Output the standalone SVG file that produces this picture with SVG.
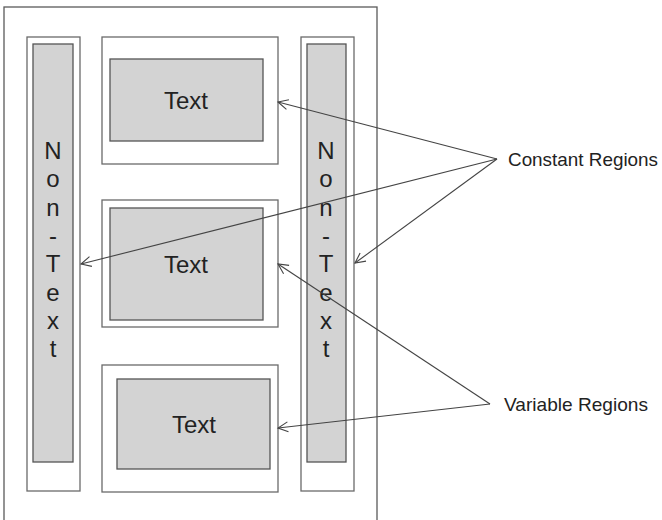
<svg xmlns="http://www.w3.org/2000/svg" width="662" height="520" viewBox="0 0 662 520">
<defs>
<style>
.frame{fill:#fff;stroke:#5a5a5a;stroke-width:1.3}
.cell{fill:#fff;stroke:#6a6a6a;stroke-width:1.3}
.gray{fill:#d3d3d3;stroke:#555;stroke-width:1.3}
.lbl{font-family:"Liberation Sans",Arial,sans-serif;font-size:24px;fill:#222;text-anchor:middle}
.cap{font-family:"Liberation Sans",Arial,sans-serif;font-size:18.5px;fill:#222}
.conn{stroke:#444;stroke-width:1.1;fill:none;marker-end:url(#arr)}
</style>
<marker id="arr" markerUnits="userSpaceOnUse" viewBox="-12 -7 14 14" refX="0" refY="0" markerWidth="14" markerHeight="14" orient="auto">
<path d="M-10,-5 L0,0 L-10,5" fill="none" stroke="#444" stroke-width="1.1"/>
</marker>
</defs>
<rect width="662" height="520" fill="#fff"/>
<g id="page"><rect class="frame" x="4" y="7" width="373" height="520"/></g>
<g id="left-col">
<rect class="cell" x="27" y="37" width="53" height="454"/>
<rect class="gray" x="33" y="44" width="40" height="418"/>
<text class="lbl" x="53" y="159"><tspan x="53">N</tspan><tspan x="53" dy="28.3">o</tspan><tspan x="53" dy="28.3">n</tspan><tspan x="53" dy="28.3">-</tspan><tspan x="53" dy="28.3">T</tspan><tspan x="53" dy="28.3">e</tspan><tspan x="53" dy="28.3">x</tspan><tspan x="53" dy="28.3">t</tspan></text>
</g>
<g id="right-col">
<rect class="cell" x="301" y="37" width="53" height="454"/>
<rect class="gray" x="307" y="44" width="39" height="418"/>
<text class="lbl" x="326" y="159"><tspan x="326">N</tspan><tspan x="326" dy="28.3">o</tspan><tspan x="326" dy="28.3">n</tspan><tspan x="326" dy="28.3">-</tspan><tspan x="326" dy="28.3">T</tspan><tspan x="326" dy="28.3">e</tspan><tspan x="326" dy="28.3">x</tspan><tspan x="326" dy="28.3">t</tspan></text>
</g>
<g id="text-top">
<rect class="cell" x="102" y="37" width="176" height="127"/>
<rect class="gray" x="110" y="59" width="153" height="82"/>
<text class="lbl" x="186" y="109">Text</text>
</g>
<g id="text-middle">
<rect class="cell" x="102" y="200" width="176" height="127"/>
<rect class="gray" x="110" y="208" width="153" height="112"/>
<text class="lbl" x="186" y="273">Text</text>
</g>
<g id="text-bottom">
<rect class="cell" x="102" y="365" width="176" height="127"/>
<rect class="gray" x="117" y="379" width="153" height="90"/>
<text class="lbl" x="194" y="433">Text</text>
</g>
<g id="constant-label"><text class="cap" x="508" y="166" textLength="150" lengthAdjust="spacingAndGlyphs">Constant Regions</text></g>
<g id="variable-label"><text class="cap" x="504" y="411" textLength="144" lengthAdjust="spacingAndGlyphs">Variable Regions</text></g>
<g id="connectors">
<line class="conn" x1="497" y1="159" x2="278" y2="102"/>
<line class="conn" x1="497" y1="159" x2="81" y2="264"/>
<line class="conn" x1="497" y1="159" x2="355" y2="263"/>
<line class="conn" x1="490" y1="404" x2="278" y2="264"/>
<line class="conn" x1="490" y1="404" x2="278" y2="428"/>
</g>
</svg>
